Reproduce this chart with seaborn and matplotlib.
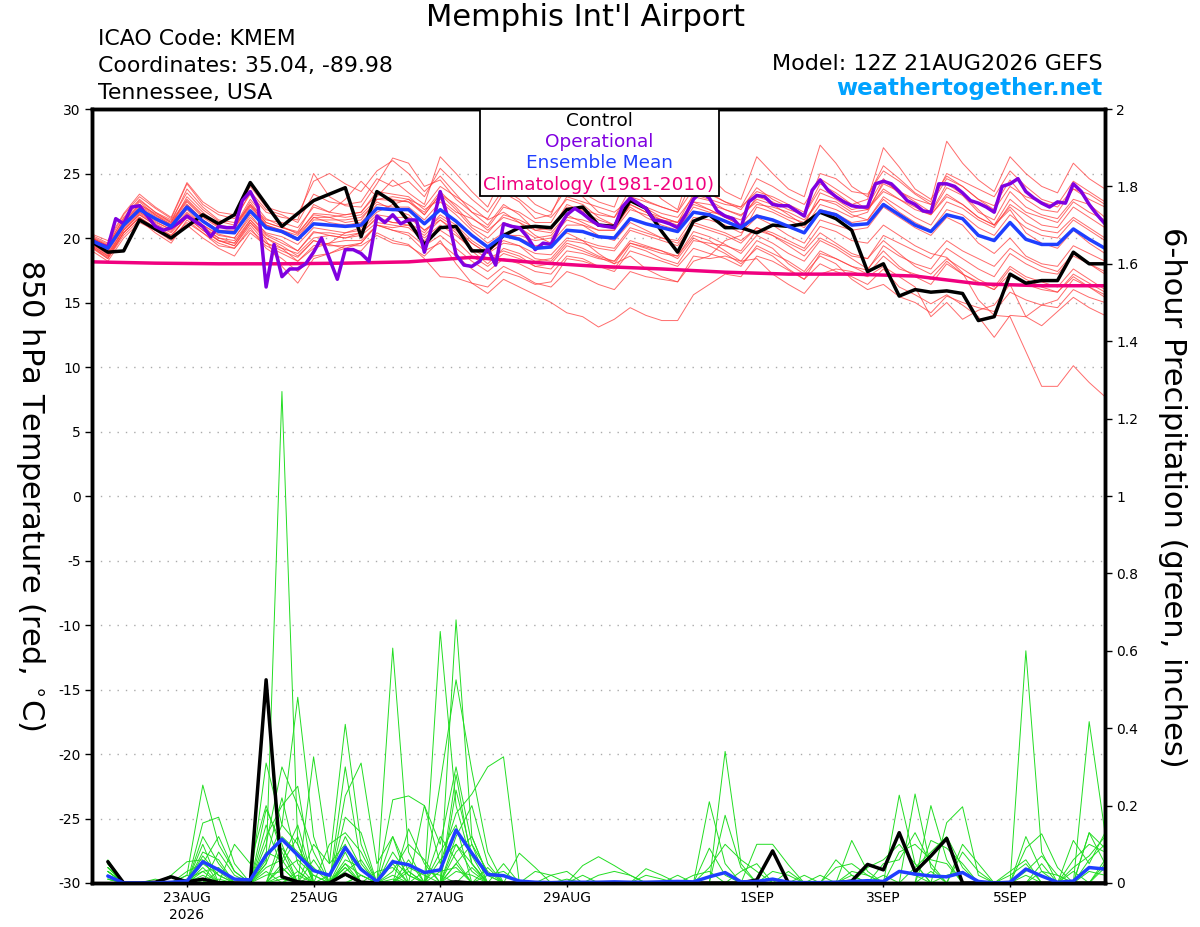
import numpy as np
import pandas as pd
import seaborn as sns
import matplotlib.pyplot as plt
from matplotlib.patches import Rectangle

# ---------------- data (6-hourly steps from 12Z 21AUG, i = 0..64) ----------------
tick_steps = [6, 14, 22, 30, 42, 50, 58]
tick_labels = ['23AUG\n2026', '25AUG', '27AUG', '29AUG', '1SEP', '3SEP', '5SEP']

control_t = [19.7, 18.9, 19.0, 21.4, 20.7, 20.0, 20.9, 21.8, 21.1, 21.8,
             24.3, 22.6, 20.9, 21.9, 22.9, 23.4, 23.9, 20.1, 23.6, 22.8,
             21.3, 19.5, 20.8, 20.9, 19.0, 19.0, 20.2, 20.8, 20.9, 20.8,
             22.2, 22.4, 21.0, 20.9, 22.9, 22.3, 20.5, 18.9, 21.3, 21.8,
             20.8, 20.8, 20.4, 21.0, 20.9, 21.1, 22.0, 21.5, 20.6, 17.4,
             18.0, 15.5, 16.0, 15.8, 15.9, 15.7, 13.6, 13.9, 17.2, 16.5,
             16.7, 16.7, 18.9, 18.0, 18.0]

mean_t = [19.8, 19.2, 21.0, 22.2, 21.5, 20.9, 22.4, 21.3, 20.5, 20.4,
          22.1, 20.8, 20.5, 19.9, 21.1, 21.0, 20.9, 21.0, 22.3, 22.2,
          22.2, 21.1, 22.2, 21.3, 20.2, 19.3, 20.2, 19.9, 19.2, 19.3,
          20.6, 20.5, 20.1, 20.0, 21.5, 21.1, 20.8, 20.5, 22.0, 21.8,
          21.3, 20.8, 21.7, 21.4, 20.9, 20.4, 22.1, 21.8, 21.0, 21.1,
          22.6, 21.8, 21.0, 20.5, 21.8, 21.5, 20.2, 19.8, 21.2, 19.9,
          19.5, 19.5, 20.7, 19.9, 19.2]

# operational run is 3-hourly (129 values)
oper_t = [19.8, 19.5, 19.3, 21.5, 21.1, 22.4, 22.5, 21.7, 20.9, 20.6,
          20.8, 21.2, 21.7, 21.3, 20.9, 20.1, 20.9, 20.8, 20.8, 22.9,
          23.6, 22.4, 16.2, 19.5, 17.0, 17.6, 17.6, 18.0, 18.9, 20.0,
          18.4, 16.8, 19.1, 19.1, 18.8, 18.2, 21.7, 21.2, 21.8, 21.1,
          21.4, 21.4, 18.9, 21.0, 23.6, 21.5, 18.7, 17.9, 17.8, 18.2,
          19.2, 17.9, 21.1, 20.9, 20.8, 20.1, 19.1, 19.6, 19.5, 20.8,
          21.8, 22.3, 21.9, 21.4, 21.0, 20.9, 20.8, 22.4, 23.1, 22.7,
          22.3, 21.4, 21.3, 21.1, 20.8, 21.8, 23.0, 23.6, 23.1, 22.1,
          21.7, 21.5, 20.8, 22.8, 23.3, 23.2, 22.6, 22.5, 22.5, 22.1,
          21.7, 23.7, 24.5, 23.7, 23.2, 22.8, 22.5, 22.4, 22.4, 24.2,
          24.4, 24.2, 23.6, 22.9, 22.6, 22.1, 22.0, 24.2, 24.2, 24.0,
          23.5, 22.9, 22.7, 22.4, 22.0, 24.0, 24.2, 24.6, 23.6, 23.1,
          22.7, 22.4, 22.8, 22.7, 24.2, 23.6, 22.6, 21.8, 21.1]

# climatology, one value per day (i = 0, 4, 8, ...)
clim_t = [18.15, 18.05, 18.0, 18.0, 18.05, 18.15, 18.5, 18.1, 17.8,
          17.6, 17.35, 17.2, 17.2, 17.05, 16.45, 16.3, 16.3]

members_t = [
    [20.2, 19.6, 21.8, 23.2, 22.3, 21.5, 24.2, 22.6, 21.8, 21.5, 23.4, 22.0, 21.6, 21.4, 25.0, 23.2,
     22.5, 22.4, 24.2, 26.2, 25.8, 24.0, 24.5, 23.0, 22.0, 21.5, 23.5, 22.8, 21.5, 21.8, 24.5, 23.2,
     22.0, 21.6, 23.8, 22.9, 22.4, 22.0, 24.6, 23.5, 22.8, 22.2, 23.9, 23.0, 22.4, 21.8, 24.2, 23.5,
     22.6, 23.0, 27.0, 25.5, 23.8, 23.0, 24.8, 24.0, 23.0, 22.5, 24.5, 23.0, 22.2, 22.0, 23.8, 23.0, 22.4],
    [19.9, 19.0, 21.4, 22.8, 21.8, 21.0, 23.2, 22.0, 21.0, 20.8, 22.8, 21.2, 20.8, 20.5, 22.6, 22.0,
     23.0, 24.4, 23.2, 24.5, 23.5, 22.6, 26.3, 25.0, 23.6, 22.4, 25.0, 23.8, 22.6, 22.0, 23.9, 23.5,
     22.8, 22.4, 25.5, 24.2, 23.0, 22.2, 26.0, 24.8, 23.6, 23.0, 26.3, 25.0, 23.8, 23.2, 27.2, 25.8,
     24.0, 23.2, 25.6, 24.6, 23.5, 22.8, 27.5, 25.8, 24.5, 23.6, 26.3, 25.0, 24.0, 23.5, 25.8, 24.6, 23.8],
    [20.0, 19.4, 21.2, 22.6, 21.9, 21.3, 23.0, 21.8, 20.9, 20.9, 23.0, 21.5, 20.9, 20.3, 21.9, 21.8,
     21.6, 21.8, 23.0, 22.9, 22.8, 22.0, 23.6, 22.4, 21.0, 20.4, 21.8, 21.4, 20.8, 20.6, 22.6, 22.1,
     21.4, 21.0, 22.8, 22.4, 21.9, 21.6, 23.2, 22.9, 22.2, 21.7, 23.0, 22.6, 21.8, 21.0, 23.5, 23.0,
     22.2, 22.5, 24.6, 23.4, 22.5, 21.9, 23.9, 23.3, 22.0, 21.4, 23.6, 22.4, 21.8, 21.5, 23.0, 22.6, 21.6],
    [19.5, 18.8, 20.6, 21.8, 21.0, 20.2, 21.6, 20.6, 19.8, 19.4, 21.0, 19.6, 19.0, 18.5, 19.8, 19.5,
     19.2, 19.0, 20.4, 19.8, 19.5, 18.4, 17.0, 16.9, 16.5, 15.7, 16.8, 16.2, 15.6, 15.0, 14.2, 13.9,
     13.1, 13.7, 14.6, 14.0, 13.6, 13.6, 15.6, 16.4, 17.2, 17.0, 18.6, 18.2, 17.5, 16.8, 18.8, 18.4,
     17.8, 17.5, 19.4, 18.6, 18.0, 17.6, 19.2, 18.4, 17.6, 17.0, 18.8, 18.0, 17.4, 17.2, 18.6, 18.0, 17.4],
    [19.6, 18.9, 20.8, 22.0, 21.3, 20.6, 22.0, 21.0, 20.2, 20.0, 21.6, 20.4, 20.1, 19.5, 20.8, 20.6,
     20.4, 20.6, 21.8, 21.6, 21.6, 20.6, 21.6, 20.8, 19.6, 18.8, 19.6, 19.4, 18.8, 18.7, 20.0, 19.8,
     19.4, 19.2, 20.8, 20.4, 20.0, 19.6, 21.2, 20.8, 20.4, 19.8, 20.8, 20.4, 19.8, 19.2, 20.9, 20.5,
     19.8, 19.6, 21.0, 20.2, 19.4, 18.8, 18.5, 17.3, 15.2, 14.0, 13.9, 11.2, 8.5, 8.5, 10.1, 8.8, 7.7],
    [19.4, 18.6, 20.4, 21.6, 20.8, 20.0, 21.2, 20.4, 19.6, 19.2, 20.6, 19.6, 19.2, 18.8, 20.0, 20.2,
     20.0, 20.2, 21.2, 21.0, 20.8, 19.8, 20.6, 19.8, 18.6, 17.8, 18.8, 18.4, 17.8, 17.6, 19.0, 18.8,
     18.4, 18.2, 19.8, 19.4, 19.0, 18.4, 20.0, 19.4, 18.8, 18.0, 19.2, 18.6, 17.6, 16.8, 18.0, 17.4,
     17.0, 16.4, 17.6, 16.2, 15.6, 14.9, 15.6, 14.8, 13.9, 12.3, 14.0, 13.9, 13.2, 14.3, 15.4, 14.6, 14.0],
    [19.7, 19.0, 20.9, 22.0, 21.2, 20.7, 22.2, 21.0, 20.3, 20.0, 21.8, 20.3, 19.8, 19.0, 20.5, 20.2,
     20.0, 20.4, 21.5, 21.2, 21.0, 20.0, 21.0, 20.2, 19.2, 18.4, 19.0, 18.6, 17.8, 18.0, 19.4, 19.0,
     18.5, 18.0, 19.6, 19.3, 19.0, 18.6, 20.5, 20.1, 19.5, 18.8, 20.2, 19.6, 18.8, 18.2, 19.8, 19.2,
     18.4, 17.6, 19.0, 17.8, 17.0, 16.4, 18.0, 17.2, 16.5, 16.0, 17.6, 16.8, 16.2, 15.8, 17.2, 16.5, 15.8],
    [20.1, 19.5, 21.5, 22.9, 22.0, 21.4, 23.5, 22.2, 21.3, 21.0, 22.6, 21.0, 20.6, 20.0, 21.6, 21.6,
     21.8, 22.0, 23.6, 23.4, 23.2, 22.2, 23.0, 22.0, 21.5, 20.8, 22.4, 22.0, 21.2, 21.2, 23.2, 22.8,
     22.4, 22.0, 23.0, 22.3, 21.6, 21.2, 22.8, 22.2, 21.6, 21.0, 22.6, 22.4, 22.0, 21.4, 23.0, 22.6,
     21.8, 21.4, 23.2, 22.4, 21.6, 21.0, 22.8, 22.3, 21.4, 20.8, 22.6, 21.8, 21.0, 20.8, 22.4, 21.6, 20.8],
    [19.3, 18.4, 20.4, 21.6, 20.6, 19.8, 21.0, 20.0, 19.2, 18.6, 20.4, 19.4, 18.8, 18.2, 19.2, 19.6,
     20.4, 20.8, 22.0, 22.6, 23.0, 22.4, 24.0, 23.2, 22.4, 21.4, 22.0, 21.2, 20.2, 19.6, 20.4, 19.8,
     18.8, 18.0, 18.6, 17.6, 17.0, 16.6, 18.2, 18.6, 19.8, 20.2, 22.4, 22.0, 21.4, 20.8, 22.6, 22.2,
     21.6, 22.0, 24.4, 23.6, 22.8, 22.0, 24.2, 23.4, 22.2, 21.0, 22.2, 20.4, 19.6, 19.2, 20.6, 19.6, 18.8],
    [19.0, 18.2, 20.0, 21.2, 20.6, 20.0, 21.8, 20.8, 20.0, 19.8, 21.4, 20.0, 19.4, 18.6, 19.8, 19.4,
     19.4, 19.6, 21.0, 20.6, 20.2, 19.0, 19.6, 18.6, 17.6, 16.8, 17.8, 17.2, 16.5, 16.2, 17.4, 17.0,
     16.4, 16.0, 17.4, 17.0, 16.8, 16.6, 18.6, 18.4, 18.6, 18.2, 19.8, 19.2, 18.0, 17.2, 18.6, 18.0,
     16.8, 16.0, 16.4, 15.45, 15.0, 14.2, 15.5, 15.0, 14.6, 14.3, 15.8, 15.2, 14.8, 14.6, 16.0, 15.4, 15.0],
    [20.3, 19.8, 21.9, 23.4, 22.4, 21.6, 24.3, 22.8, 22.0, 21.8, 24.0, 22.4, 22.0, 21.8, 24.4, 25.0,
     24.2, 23.6, 25.2, 26.0, 25.0, 23.6, 24.8, 23.4, 22.0, 21.0, 22.6, 21.8, 20.6, 20.4, 21.8, 21.2,
     20.6, 20.6, 22.6, 22.0, 21.6, 21.2, 23.4, 23.0, 22.6, 22.4, 24.6, 24.0, 23.2, 22.6, 24.6, 23.8,
     23.0, 22.2, 23.8, 23.0, 22.4, 21.8, 23.4, 22.6, 21.6, 21.0, 23.0, 22.0, 21.6, 21.2, 22.8, 22.0, 21.4],
    [19.2, 18.4, 20.2, 21.4, 20.4, 19.6, 21.4, 20.4, 19.4, 19.2, 20.8, 19.2, 18.4, 17.4, 18.6, 18.8,
     19.4, 19.4, 20.2, 19.6, 19.4, 18.6, 19.8, 18.0, 16.5, 16.2, 17.4, 17.0, 16.4, 16.6, 18.4, 18.2,
     17.8, 17.6, 19.4, 19.0, 18.4, 18.0, 19.8, 19.6, 19.4, 19.0, 20.6, 20.2, 19.6, 19.0, 20.4, 19.6,
     18.8, 18.4, 19.8, 18.8, 17.8, 17.2, 18.4, 17.6, 16.8, 16.2, 17.8, 17.0, 16.6, 16.2, 17.6, 16.8, 16.0],
    [19.8, 19.2, 21.0, 22.4, 21.6, 21.0, 22.6, 21.4, 20.6, 20.6, 22.4, 21.0, 20.6, 20.2, 21.6, 21.2,
     21.0, 21.2, 22.6, 22.4, 22.4, 21.4, 22.8, 21.8, 20.6, 19.6, 20.4, 20.0, 19.4, 19.6, 21.0, 21.0,
     20.6, 20.6, 22.2, 21.8, 21.4, 21.2, 22.6, 22.2, 21.6, 21.0, 21.8, 21.4, 20.8, 20.4, 22.2, 21.9,
     21.2, 21.4, 23.0, 22.0, 21.2, 20.6, 22.2, 21.8, 20.8, 20.2, 21.8, 20.8, 20.2, 20.0, 21.4, 20.6, 19.8],
    [20.0, 19.4, 21.6, 23.0, 22.0, 21.2, 23.8, 22.4, 21.4, 21.2, 23.6, 22.2, 21.8, 21.2, 23.4, 22.8,
     22.6, 22.8, 24.6, 24.0, 24.4, 23.2, 25.4, 24.2, 23.0, 22.0, 23.8, 23.0, 22.0, 21.6, 23.0, 22.6,
     21.6, 21.0, 22.4, 21.6, 21.0, 20.6, 22.4, 22.0, 21.8, 21.4, 23.2, 22.8, 22.2, 21.8, 23.8, 23.2,
     22.6, 22.2, 24.2, 23.6, 23.0, 22.6, 25.0, 24.4, 23.8, 23.2, 25.2, 24.0, 23.0, 22.6, 24.4, 23.6, 22.8],
    [19.4, 18.6, 20.6, 21.8, 21.0, 20.4, 21.8, 20.8, 19.8, 19.4, 21.2, 19.8, 17.8, 16.5, 18.4, 18.8,
     19.2, 19.6, 21.0, 20.8, 21.0, 20.2, 21.4, 20.4, 19.0, 18.0, 19.2, 18.8, 18.2, 18.4, 19.8, 19.6,
     19.2, 19.0, 20.6, 20.2, 19.8, 19.4, 21.0, 20.6, 20.2, 19.6, 20.8, 20.2, 19.4, 18.6, 20.0, 19.4,
     18.6, 18.4, 20.2, 19.6, 19.0, 18.4, 19.8, 19.0, 18.4, 17.8, 19.2, 18.4, 17.8, 17.4, 18.8, 18.0, 17.2],
    [19.6, 19.0, 21.2, 22.2, 21.4, 20.8, 22.6, 21.4, 20.6, 20.4, 22.2, 21.0, 20.4, 19.8, 21.4, 21.4,
     21.4, 21.6, 22.8, 22.2, 21.8, 20.6, 21.4, 20.6, 19.6, 18.8, 20.2, 20.2, 19.8, 20.0, 21.4, 21.0,
     20.2, 19.8, 21.2, 20.6, 20.0, 19.8, 21.6, 21.4, 21.0, 20.4, 21.6, 21.0, 20.2, 19.6, 21.4, 21.0,
     20.6, 20.8, 22.4, 21.6, 20.8, 20.2, 21.6, 21.0, 19.6, 18.8, 20.0, 18.6, 18.0, 17.8, 19.4, 18.8, 18.2],
    [19.9, 19.3, 21.1, 22.5, 21.7, 21.1, 22.8, 21.6, 20.8, 20.8, 22.6, 21.4, 21.2, 20.8, 22.4, 22.0,
     21.8, 22.0, 23.4, 23.0, 22.8, 21.8, 23.4, 22.6, 21.6, 20.6, 21.6, 21.2, 20.6, 20.8, 22.4, 22.2,
     21.8, 21.6, 23.2, 22.8, 22.4, 22.0, 23.8, 23.4, 22.8, 22.4, 23.6, 23.2, 22.6, 22.0, 25.0, 24.6,
     23.6, 23.4, 25.2, 24.4, 23.4, 22.6, 24.6, 24.0, 23.0, 22.2, 24.0, 23.2, 22.8, 22.4, 23.8, 23.4, 22.6],
    [19.5, 18.7, 20.7, 21.9, 21.1, 20.5, 21.9, 20.9, 20.0, 19.6, 21.4, 20.2, 19.6, 19.0, 20.4, 20.4,
     20.2, 20.4, 21.6, 21.2, 21.2, 20.4, 21.8, 21.0, 19.8, 19.0, 19.8, 19.4, 18.4, 18.2, 19.6, 19.2,
     18.6, 18.2, 19.6, 19.2, 18.8, 18.6, 20.2, 19.8, 19.0, 18.2, 18.4, 17.2, 16.4, 15.7, 17.2, 17.6,
     17.4, 17.0, 17.8, 17.0, 16.2, 13.9, 15.0, 13.7, 14.4, 14.8, 16.4, 13.9, 14.8, 15.2, 16.8, 16.2, 15.6],
    [20.0, 19.4, 21.3, 22.6, 21.8, 21.2, 22.9, 21.7, 20.9, 20.8, 22.5, 21.2, 20.8, 20.4, 21.8, 21.6,
     21.2, 21.4, 23.0, 23.2, 23.0, 21.8, 23.4, 22.2, 20.8, 20.0, 21.2, 20.8, 20.0, 20.2, 21.6, 21.4,
     21.0, 21.0, 22.6, 22.0, 21.4, 21.0, 22.8, 22.6, 22.2, 21.8, 22.8, 22.2, 21.6, 21.2, 23.0, 22.8,
     22.0, 22.2, 23.6, 23.0, 22.2, 21.8, 23.2, 22.6, 21.6, 21.0, 22.4, 21.2, 20.6, 20.4, 21.6, 20.8, 20.0],
    [19.3, 18.5, 20.4, 21.6, 20.8, 20.2, 21.6, 20.6, 19.8, 19.6, 21.2, 20.0, 19.2, 18.2, 19.4, 19.6,
     19.8, 19.8, 21.0, 20.6, 20.4, 19.4, 20.2, 19.2, 18.2, 17.4, 18.4, 18.0, 17.4, 17.2, 18.6, 18.4,
     17.8, 17.4, 19.0, 18.6, 18.2, 17.8, 19.2, 18.8, 18.4, 17.8, 19.4, 18.8, 18.2, 17.4, 19.0, 18.4,
     17.8, 17.2, 18.6, 17.6, 17.2, 16.8, 18.2, 17.2, 16.6, 16.0, 17.2, 16.4, 16.0, 15.8, 17.0, 16.2, 15.4],
]

# 6-hour precipitation (inches), steps i = 1..64
control_p = [0.055, 0, 0, 0.002, 0.016, 0.003, 0.01, 0.001, 0, 0,
             0.525, 0.016, 0.003, 0, 0, 0.023, 0.002, 0, 0, 0,
             0, 0, 0.003, 0, 0, 0, 0, 0, 0, 0,
             0, 0, 0, 0, 0, 0, 0, 0, 0, 0,
             0, 0.008, 0.083, 0, 0, 0, 0, 0.005, 0.048, 0.034,
             0.13, 0.029, 0.07, 0.115, 0, 0, 0, 0, 0, 0,
             0, 0, 0, 0]

mean_p = [0.018, 0, 0, 0, 0.002, 0.005, 0.055, 0.034, 0.01, 0.008,
          0.072, 0.113, 0.072, 0.032, 0.02, 0.092, 0.035, 0.004, 0.055, 0.047,
          0.027, 0.034, 0.137, 0.077, 0.022, 0.019, 0.005, 0.002, 0.001, 0.002,
          0.002, 0.002, 0.003, 0.002, 0.002, 0.003, 0.004, 0.003, 0.016, 0.027,
          0.003, 0.004, 0.01, 0.002, 0.001, 0.001, 0.002, 0.004, 0.006, 0.004,
          0.03, 0.023, 0.018, 0.016, 0.027, 0.004, 0, 0.002, 0.036, 0.018,
          0.002, 0.005, 0.04, 0.036]

# members: only the wet steps are listed, all other steps are 0
members_p = [
    {1: 0.05, 7: 0.12, 8: 0.05, 11: 0.05, 12: 1.27, 13: 0.1, 16: 0.04, 19: 0.12, 20: 0.03, 23: 0.28,
     24: 0.05, 40: 0.34, 41: 0.05, 52: 0.23, 53: 0.04, 59: 0.12, 60: 0.03, 63: 0.13, 64: 0.09},
    {1: 0.04, 6: 0.02, 7: 0.253, 8: 0.1, 9: 0.03, 11: 0.31, 12: 0.15, 13: 0.48, 14: 0.12, 16: 0.3,
     17: 0.05, 22: 0.65, 23: 0.2, 24: 0.05, 39: 0.21, 40: 0.05, 51: 0.227, 52: 0.05, 59: 0.6, 60: 0.08, 64: 0.06},
    {1: 0.06, 7: 0.155, 8: 0.17, 9: 0.05, 11: 0.19, 12: 0.1, 14: 0.326, 15: 0.05, 16: 0.41, 17: 0.1,
     19: 0.607, 20: 0.08, 23: 0.68, 24: 0.12, 25: 0.02, 42: 0.1, 43: 0.1, 44: 0.047, 48: 0.11, 49: 0.03,
     63: 0.417, 64: 0.13},
    {1: 0.03, 5: 0.02, 6: 0.055, 7: 0.06, 11: 0.12, 12: 0.2, 13: 0.25, 16: 0.225, 17: 0.31, 18: 0.05,
     19: 0.12, 22: 0.258, 23: 0.525, 24: 0.29, 25: 0.08, 54: 0.156, 55: 0.197, 56: 0.02, 62: 0.11,
     63: 0.05, 64: 0.13},
    {1: 0.05, 7: 0.03, 8: 0.04, 11: 0.08, 12: 0.06, 13: 0.15, 16: 0.17, 17: 0.13, 19: 0.215, 20: 0.225,
     21: 0.2, 22: 0.05, 23: 0.18, 24: 0.23, 25: 0.3, 26: 0.326, 47: 0.06, 48: 0.02, 53: 0.2, 54: 0.06},
    {1: 0.04, 7: 0.1, 9: 0.1, 10: 0.05, 11: 0.2, 12: 0.08, 14: 0.1, 15: 0.05, 16: 0.1, 20: 0.14,
     21: 0.05, 23: 0.1, 24: 0.05, 27: 0.077, 28: 0.04, 31: 0.045, 32: 0.068, 33: 0.045, 34: 0.02,
     40: 0.175, 41: 0.04},
    {1: 0.02, 4: 0.01, 7: 0.08, 8: 0.06, 11: 0.1, 12: 0.3, 13: 0.2, 14: 0.08, 16: 0.05, 19: 0.05,
     21: 0.2, 22: 0.1, 23: 0.3, 24: 0.1, 35: 0.037, 36: 0.02, 39: 0.09, 40: 0.02, 59: 0.09, 60: 0.127, 61: 0.04},
    {1: 0.03, 6: 0.03, 7: 0.05, 8: 0.12, 9: 0.03, 11: 0.05, 12: 0.15, 13: 0.1, 16: 0.06, 17: 0.04,
     20: 0.06, 22: 0.08, 23: 0.15, 25: 0.04, 49: 0.04, 50: 0.06, 51: 0.1, 52: 0.05, 55: 0.08, 56: 0.03,
     63: 0.13, 64: 0.05},
    {1: 0.05, 7: 0.04, 11: 0.06, 12: 0.22, 13: 0.05, 15: 0.1, 16: 0.13, 17: 0.08, 19: 0.08, 20: 0.02,
     23: 0.24, 24: 0.07, 26: 0.05, 29: 0.02, 30: 0.03, 44: 0.03, 51: 0.08, 52: 0.1, 53: 0.06, 54: 0.05,
     62: 0.04, 63: 0.07, 64: 0.12},
    {1: 0.02, 8: 0.08, 9: 0.02, 12: 0.12, 13: 0.08, 14: 0.04, 16: 0.08, 18: 0.03, 19: 0.04, 22: 0.06,
     23: 0.1, 24: 0.03, 37: 0.02, 41: 0.03, 42: 0.05, 55: 0.1, 56: 0.05, 58: 0.02, 59: 0.05, 64: 0.04},
    {1: 0.04, 7: 0.07, 8: 0.02, 11: 0.15, 12: 0.04, 14: 0.06, 16: 0.03, 17: 0.06, 20: 0.04, 21: 0.02,
     23: 0.05, 24: 0.1, 25: 0.03, 46: 0.02, 50: 0.05, 51: 0.06, 52: 0.13, 53: 0.05, 60: 0.05},
    {1: 0.01, 7: 0.02, 12: 0.05, 13: 0.12, 16: 0.02, 19: 0.03, 20: 0.1, 21: 0.06, 23: 0.08, 24: 0.12,
     25: 0.02, 32: 0.02, 33: 0.03, 34: 0.02, 53: 0.11, 54: 0.09, 55: 0.05, 63: 0.06, 64: 0.1},
    {1: 0.03, 6: 0.01, 7: 0.03, 11: 0.04, 12: 0.06, 16: 0.05, 17: 0.02, 22: 0.12, 23: 0.06, 28: 0.03,
     29: 0.02, 39: 0.04, 40: 0.1, 41: 0.06, 42: 0.03, 48: 0.03, 49: 0.02, 59: 0.03, 60: 0.07, 61: 0.02},
    {1: 0.05, 8: 0.03, 12: 0.09, 13: 0.03, 15: 0.02, 16: 0.12, 17: 0.04, 19: 0.02, 23: 0.12, 24: 0.2,
     25: 0.05, 52: 0.04, 53: 0.08, 54: 0.12, 55: 0.04, 62: 0.06, 63: 0.1, 64: 0.08},
    {1: 0.02, 7: 0.05, 8: 0.02, 11: 0.02, 12: 0.03, 13: 0.06, 14: 0.02, 19: 0.06, 20: 0.02, 22: 0.03,
     23: 0.04, 31: 0.02, 43: 0.03, 44: 0.02, 47: 0.04, 48: 0.05, 49: 0.02, 58: 0.03, 59: 0.06},
    {1: 0.01, 12: 0.02, 16: 0.02, 23: 0.03, 24: 0.02, 35: 0.02, 36: 0.01, 51: 0.03, 52: 0.02, 63: 0.03, 64: 0.02},
    {1: 0.02, 7: 0.01, 11: 0.03, 13: 0.02, 17: 0.02, 20: 0.03, 25: 0.02, 26: 0.03, 54: 0.02, 55: 0.03},
    {1: 0.03, 8: 0.01, 12: 0.04, 14: 0.02, 19: 0.01, 23: 0.05, 38: 0.02, 39: 0.03, 50: 0.02, 60: 0.03, 61: 0.02},
    {1: 0.01, 6: 0.02, 13: 0.03, 16: 0.04, 21: 0.03, 22: 0.02, 48: 0.02, 53: 0.03, 64: 0.05},
    {1: 0.02, 12: 0.01, 17: 0.02, 24: 0.04, 30: 0.01, 45: 0.02, 59: 0.02, 62: 0.03},
]

# ---------------- build tables ----------------
steps = np.arange(len(mean_t))
psteps = np.arange(1, len(mean_t))

temp_long = pd.DataFrame([
    {'member': m, 'step': s, 'temp': v}
    for m, vals in enumerate(members_t) for s, v in zip(steps, vals)
])
precip_long = pd.DataFrame([
    {'member': m, 'step': s, 'precip': wet.get(s, 0.0)}
    for m, wet in enumerate(members_p) for s in psteps
])
main_t = pd.DataFrame({'step': steps, 'control': control_t, 'mean': mean_t})
oper_df = pd.DataFrame({'step': np.arange(len(oper_t)) / 2, 'temp': oper_t})
clim_df = pd.DataFrame({'step': np.arange(len(clim_t)) * 4, 'temp': clim_t})
main_p = pd.DataFrame({'step': psteps, 'control': control_p, 'mean': mean_p})

# ---------------- styling ----------------
sns.set_style('white')
plt.rcParams['font.family'] = ['DejaVu Sans']
plt.rcParams['axes.unicode_minus'] = False
plt.rcParams['text.color'] = 'black'
plt.rcParams['xtick.color'] = 'black'
plt.rcParams['ytick.color'] = 'black'

RED = '#ff3a3a'
GREEN = '#22dd22'
PURPLE = '#8000e0'
BLUE = '#1f3fff'
MAGENTA = '#f0007f'

fig = plt.figure(figsize=(12, 9.27), dpi=100)
ax = fig.add_axes([92 / 1200, 1 - 883 / 927, 1013 / 1200, 774 / 927])
ax2 = ax.twinx()

# temperature
sns.lineplot(data=temp_long, x='step', y='temp', units='member', estimator=None,
             color=RED, lw=0.7, alpha=0.75, ax=ax, legend=False)
sns.lineplot(data=clim_df, x='step', y='temp', color=MAGENTA, lw=2.5, ax=ax)
sns.lineplot(data=main_t, x='step', y='control', color='black', lw=2.5, ax=ax)
sns.lineplot(data=oper_df, x='step', y='temp', color=PURPLE, lw=2.5, ax=ax)
sns.lineplot(data=main_t, x='step', y='mean', color=BLUE, lw=2.5, ax=ax)

# precipitation
sns.lineplot(data=precip_long, x='step', y='precip', units='member', estimator=None,
             color=GREEN, lw=0.7, ax=ax2, legend=False)
sns.lineplot(data=main_p, x='step', y='control', color='black', lw=2.5, ax=ax2)
sns.lineplot(data=main_p, x='step', y='mean', color=BLUE, lw=2.5, ax=ax2)

ax.set_xlim(0, 64)
ax.set_ylim(-30, 30)
ax2.set_ylim(0, 2)

ax.set_yticks(np.arange(-30, 31, 5))
ax.yaxis.grid(True, color='#aaaaaa', linestyle=(0, (1, 5)), lw=1)
ax.xaxis.grid(False)
ax.set_xticks(tick_steps)
ax.set_xticklabels(tick_labels)
ax2.set_yticks(np.arange(0, 2.01, 0.2))
ax2.set_yticklabels(['0', '0.2', '0.4', '0.6', '0.8', '1', '1.2', '1.4', '1.6', '1.8', '2'])

ax.tick_params(axis='y', direction='out', length=5, width=1, labelsize=10, pad=3, left=True,
               colors='black')
ax.tick_params(axis='x', direction='out', length=3, width=1, labelsize=10, pad=3, bottom=True,
               colors='black')
ax2.tick_params(axis='y', direction='out', length=5, width=1, labelsize=10, pad=3, right=True,
                colors='black')

ax.set_xlabel('')
ax.set_ylabel('')
ax2.set_xlabel('')
ax2.set_ylabel('')
for a in (ax, ax2):
    for sp in a.spines.values():
        sp.set_linewidth(2.5)
        sp.set_color('black')

# legend box
ax2.add_patch(Rectangle((0.383, 0.8876), 0.236, 0.1124, transform=ax2.transAxes,
                        facecolor='white', edgecolor='black', lw=1.3, zorder=10))
for y, txt, c in [(0.9845, 'Control', 'black'), (0.957, 'Operational', PURPLE),
                  (0.930, 'Ensemble Mean', BLUE), (0.9018, 'Climatology (1981-2010)', MAGENTA)]:
    ax2.text(0.5005, y, txt, color=c, fontsize=13.3, ha='center', va='center',
             transform=ax2.transAxes, zorder=11)

# axis titles
fig.text(30 / 1200, 1 - 495 / 927, '850 hPa Temperature (red, $^{\\circ}$C)', rotation=270,
         fontsize=22, ha='center', va='center')
fig.text(1173 / 1200, 1 - 497 / 927, '6-hour Precipitation (green, inches)', rotation=270,
         fontsize=22, ha='center', va='center')

# header
fig.text(585 / 1200, 1 - 18 / 927, "Memphis Int'l Airport", fontsize=22, ha='center', va='center')
for y, txt in [(39, 'ICAO Code: KMEM'), (66, 'Coordinates: 35.04, -89.98'), (93, 'Tennessee, USA')]:
    fig.text(98 / 1200, 1 - y / 927, txt, fontsize=15.8, ha='left', va='center')
fig.text(1102 / 1200, 1 - 64 / 927, 'Model: 12Z 21AUG2026 GEFS', fontsize=16, ha='right', va='center')
fig.text(1102 / 1200, 1 - 89 / 927, 'weathertogether.net', fontsize=16.5, fontweight='bold',
         color='#00a2ff', ha='right', va='center')

fig.savefig('out.png', dpi=100)
